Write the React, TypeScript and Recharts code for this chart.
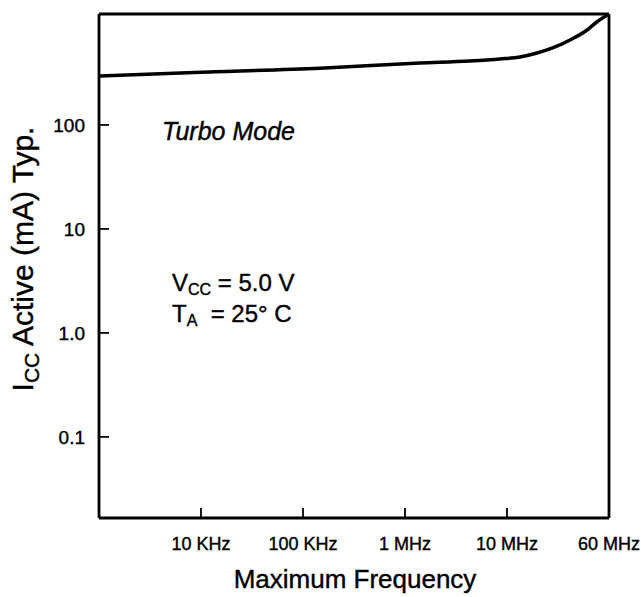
import React from "react";
import { LineChart, Line, XAxis, YAxis, ReferenceLine } from "recharts";

// Frequency (Hz, plotted on log axis) and typical active current (mA)
const FREQ = [1e3, 1e4, 1.47e5, 1.4e6, 4.3e6, 8.5e6, 1.34e7, 1.97e7, 2.8e7, 4.15e7, 6.1e7, 7.6e7, 1e8];
const ICC = [296, 322, 351, 394, 412, 431, 451, 492, 550, 656, 819, 978, 1167];

const X_TICKS = [1e4, 1e5, 1e6, 1e7, 1e8];
const X_LABELS = ["10 KHz", "100 KHz", "1 MHz", "10 MHz", "60 MHz"];
const Y_TICKS = [0.1, 1, 10, 100];
const Y_LABELS = ["0.1", "1.0", "10", "100"];

const X_DOMAIN: [number, number] = [1e3, 1e8];
const Y_DOMAIN: [number, number] = [0.0166, 1167];

const data = FREQ.map((f, i) => ({ f, i: ICC[i] }));

const FONT = "'Liberation Sans', Arial, Helvetica, sans-serif";
const THICK = { stroke: "#000", strokeWidth: 0.4 };

const XTick = (props: any) => {
  const { x, y, payload } = props;
  const idx = X_TICKS.indexOf(payload.value);
  return (
    <g>
      <line x1={x} y1={y} x2={x} y2={y - 10} stroke="#000" strokeWidth={1.8} />
      <text x={x} y={y + 32} textAnchor="middle" fontSize={18} fontFamily={FONT} fill="#000" {...THICK}>
        {X_LABELS[idx]}
      </text>
    </g>
  );
};

const YTick = (props: any) => {
  const { x, y, payload } = props;
  const idx = Y_TICKS.indexOf(payload.value);
  return (
    <g>
      <line x1={x} y1={y} x2={x + 10} y2={y} stroke="#000" strokeWidth={1.8} />
      <text x={x - 14} y={y + 7} textAnchor="end" fontSize={19} fontFamily={FONT} fill="#000" {...THICK}>
        {Y_LABELS[idx]}
      </text>
    </g>
  );
};

const YLabel = () => (
  <text
    transform="translate(33,259) rotate(-90)"
    textAnchor="middle"
    fontSize={30}
    fontFamily={FONT}
    fill="#000"
    {...THICK}
  >
    I
    <tspan fontSize={21} dy={6}>CC</tspan>
    <tspan dy={-6}> Active (mA) Typ.</tspan>
  </text>
);

const XLabel = () => (
  <text x={355} y={588} textAnchor="middle" fontSize={26} fontFamily={FONT} fill="#000" {...THICK}>
    Maximum Frequency
  </text>
);

export default function App() {
  return (
    <div style={{ position: "absolute", left: 0, top: 0, width: 641, height: 597, background: "#fff" }}>
      <LineChart width={641} height={597} data={data} margin={{ top: 14, right: 32, bottom: 0, left: 0 }}>
        <XAxis
          dataKey="f"
          type="number"
          scale="log"
          domain={X_DOMAIN}
          ticks={X_TICKS}
          allowDataOverflow
          height={79}
          tickSize={0}
          tickMargin={0}
          tickLine={false}
          tick={<XTick />}
          axisLine={{ stroke: "#000", strokeWidth: 2.8 }}
          label={<XLabel />}
          interval={0}
        />
        <YAxis
          dataKey="i"
          type="number"
          scale="log"
          domain={Y_DOMAIN}
          ticks={Y_TICKS}
          allowDataOverflow
          width={99}
          tickSize={0}
          tickMargin={0}
          tickLine={false}
          tick={<YTick />}
          axisLine={{ stroke: "#000", strokeWidth: 2.8 }}
          label={<YLabel />}
          interval={0}
        />
        <ReferenceLine y={Y_DOMAIN[1]} stroke="#000" strokeWidth={2.8} />
        <ReferenceLine x={X_DOMAIN[1]} stroke="#000" strokeWidth={2.8} />
        <Line
          type="monotone"
          dataKey="i"
          stroke="#000"
          strokeWidth={3.5}
          dot={false}
          isAnimationActive={false}
        />
        <text x={162} y={140} fontSize={25} fontStyle="italic" fontFamily={FONT} fill="#000" {...THICK}>
          Turbo Mode
        </text>
        <text x={172} y={291} fontSize={24} fontFamily={FONT} fill="#000" {...THICK}>
          V<tspan fontSize={16} dy={4}>CC</tspan>
          <tspan dy={-4}> = 5.0 V</tspan>
        </text>
        <text x={172} y={322} fontSize={24} fontFamily={FONT} fill="#000" {...THICK}>
          T<tspan fontSize={16} dy={4}>A</tspan>
          <tspan dy={-4}>{"\u00A0 = 25\u00B0 C"}</tspan>
        </text>
      </LineChart>
    </div>
  );
}
